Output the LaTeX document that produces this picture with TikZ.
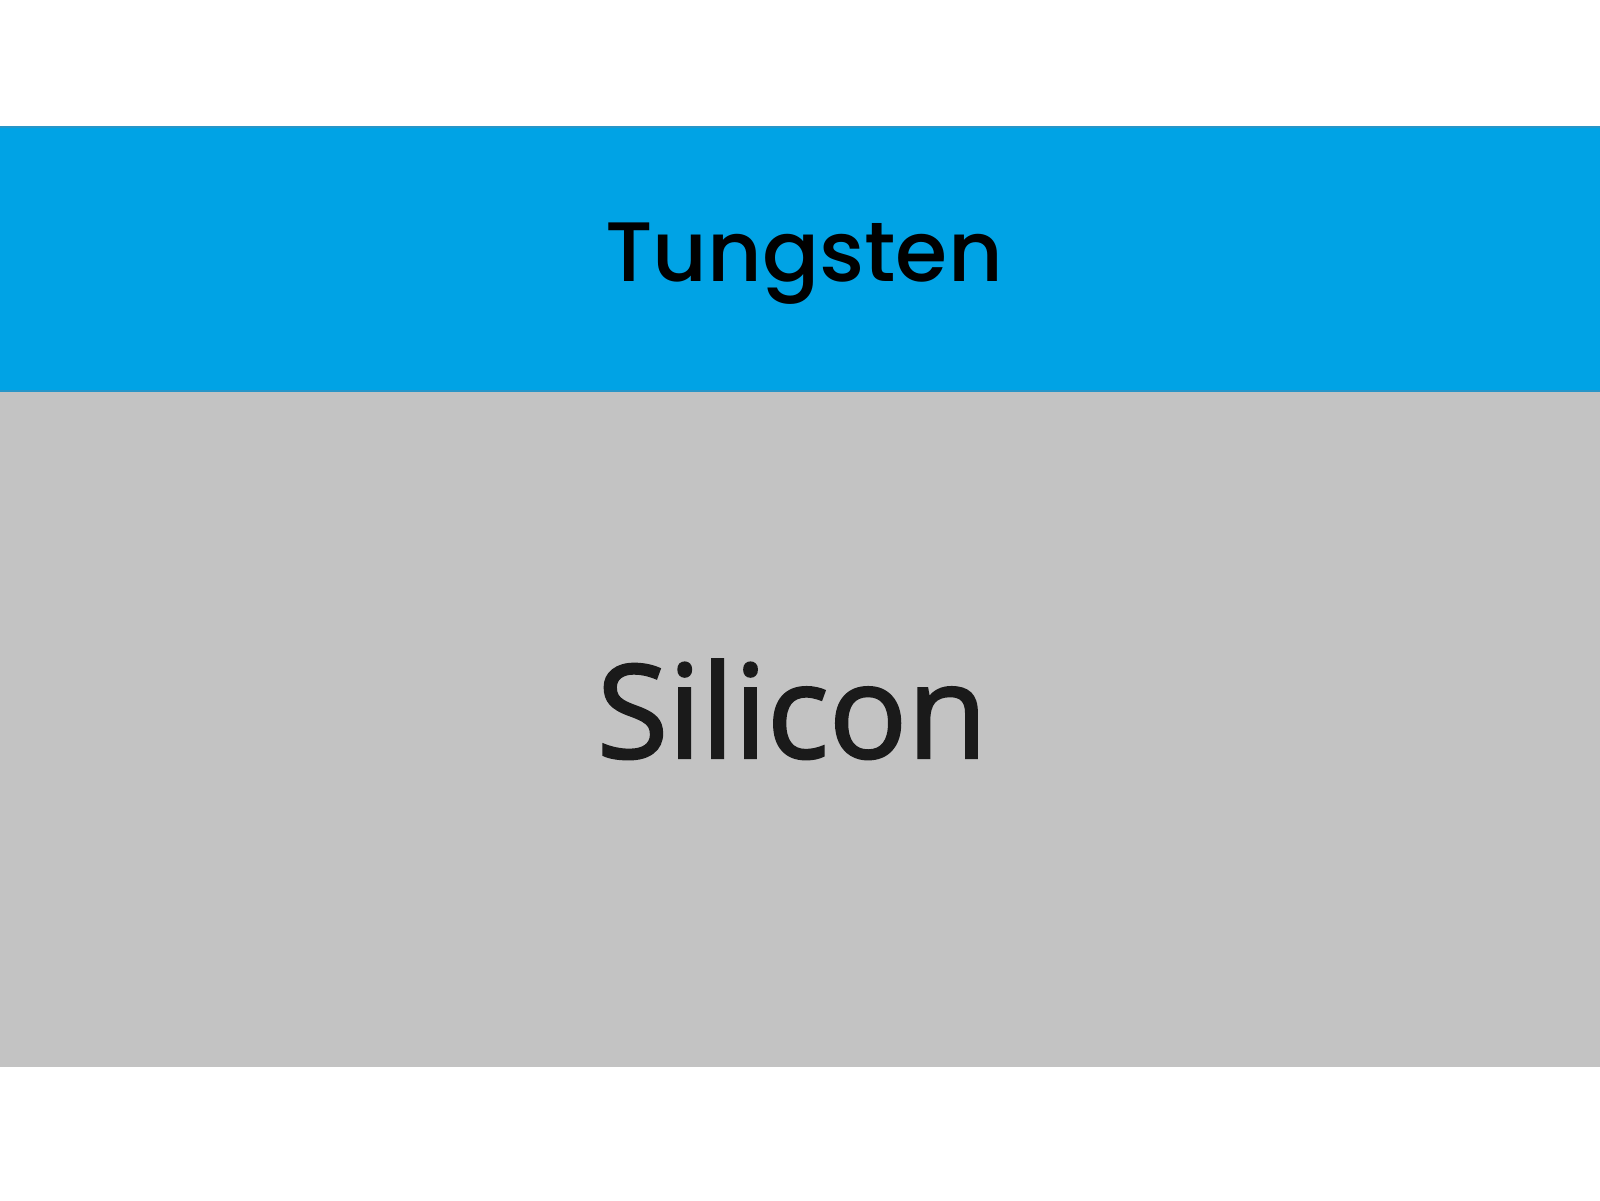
\documentclass[tikz,border=0pt]{standalone}
\usepackage{fontspec}
\newfontfamily\poppins{Poppins Medium}
\newfontfamily\opensans[FakeBold=1.8]{Open Sans}
\definecolor{tungblue}{RGB}{0,163,229}
\definecolor{tungedge}{RGB}{40,150,200}
\definecolor{sigray}{RGB}{195,195,195}
\definecolor{sitext}{RGB}{26,26,26}
\tikzset{
  layer/.style={inner sep=0pt, outer sep=0pt},
  label/.style={inner sep=0pt, anchor=base}
}
\begin{document}
\begin{tikzpicture}
\useasboundingbox (0,0) rectangle (16,12);
\fill[white] (0,0) rectangle (16,12);
% silicon layer
\fill[sigray] (0,1.33) rectangle (16,8.09);
% tungsten layer
\fill[tungblue] (0,8.09) rectangle (16,10.73);
\draw[tungedge, line width=0.6pt] (0,10.73) -- (16,10.73);
\draw[tungedge, line width=0.6pt] (0,8.09) -- (16,8.09);
\node[layer] (tungsten) at (8,9.41) {};
\node[layer] (silicon) at (8,4.71) {};
\node[label, font=\poppins\fontsize{24}{29}\selectfont] (tlabel) at (8.04,9.18) {Tungsten};
\node[label, font=\opensans\fontsize{37}{45}\selectfont, text=sitext] (slabel) at (7.92,4.42) {Silicon};
\end{tikzpicture}
\end{document}
